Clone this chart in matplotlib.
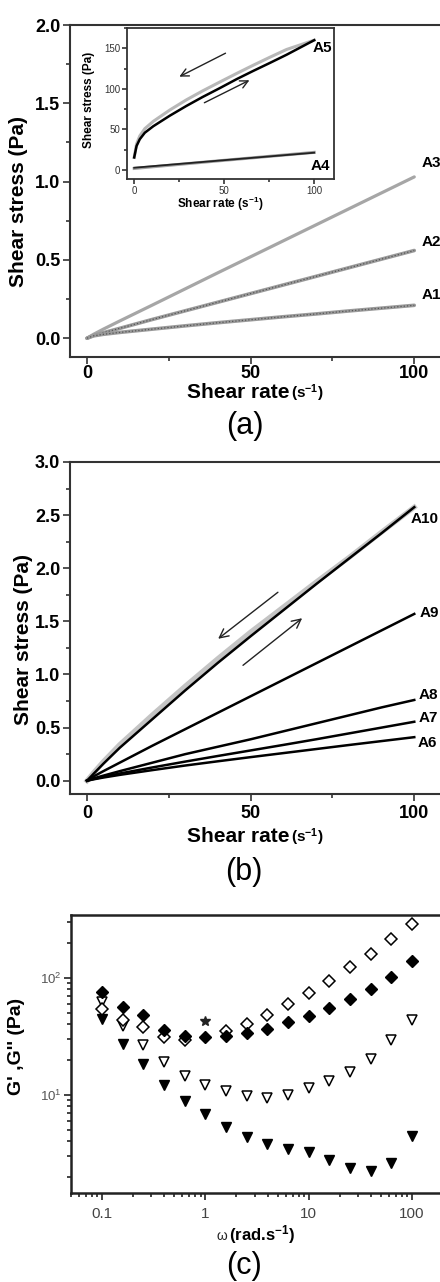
import numpy as np
import matplotlib
matplotlib.use('Agg')
import matplotlib.pyplot as plt
from matplotlib.ticker import MultipleLocator, LogLocator, FuncFormatter, NullFormatter

plt.rcParams['font.family'] = ['Liberation Sans', 'DejaVu Sans']
plt.rcParams['mathtext.fontset'] = 'custom'
plt.rcParams['mathtext.rm'] = 'Liberation Sans'
plt.rcParams['mathtext.bf'] = 'Liberation Sans:bold'
plt.rcParams['mathtext.it'] = 'Liberation Sans:italic'

# ---------------- data ----------------
shear_rate = [0, 2, 5, 10, 20, 30, 40, 50, 60, 70, 80, 90, 100]
A1 = [0, 0.015, 0.025, 0.037, 0.058, 0.079, 0.099, 0.118, 0.137, 0.155, 0.174, 0.192, 0.21]
A2 = [0, 0.018, 0.035, 0.063, 0.12, 0.175, 0.23, 0.285, 0.34, 0.395, 0.45, 0.505, 0.56]
A3 = [0, 0.025, 0.058, 0.11, 0.212, 0.315, 0.418, 0.52, 0.622, 0.724, 0.826, 0.928, 1.03]

A6 = [0, 0.013, 0.03, 0.055, 0.10, 0.143, 0.183, 0.222, 0.26, 0.298, 0.336, 0.373, 0.41]
A7 = [0, 0.016, 0.037, 0.068, 0.125, 0.18, 0.233, 0.285, 0.337, 0.39, 0.445, 0.50, 0.555]
A8 = [0, 0.022, 0.048, 0.09, 0.17, 0.25, 0.32, 0.39, 0.465, 0.54, 0.615, 0.69, 0.76]
A9 = [0, 0.04, 0.09, 0.17, 0.33, 0.485, 0.64, 0.795, 0.95, 1.105, 1.26, 1.415, 1.57]
A10_up = [0, 0.065, 0.16, 0.31, 0.58, 0.85, 1.11, 1.36, 1.605, 1.85, 2.09, 2.33, 2.575]
A10_down = [0, 0.075, 0.18, 0.34, 0.62, 0.89, 1.15, 1.40, 1.635, 1.87, 2.10, 2.34, 2.575]

inset_rate = [0, 1.3, 3.1, 5.9, 10.6, 19.8, 29, 38, 47.6, 56.9, 66, 75.4, 84.6, 100]
A5_up = [15.6, 29.6, 38, 46, 54, 67, 79, 90, 101, 112, 122, 132, 142, 160]
A5_down = [15.6, 32, 42, 51, 60, 74, 86.5, 97.5, 108.5, 119, 129, 139, 148.5, 160]
A4_rate = [0, 50, 100]
A4_up = [2.9, 12.2, 21.4]
A4_down = [2.0, 12.0, 21.8]

omega = [0.1, 0.158, 0.251, 0.398, 0.631, 1.0, 1.585, 2.512, 3.981, 6.31,
         10, 15.85, 25.12, 39.81, 63.1, 100]
G_filled_diamond = [75.9, 56, 48.5, 35.6, 32, 31.2, 32, 33.8, 36.8, 41.7,
                    46.9, 55.3, 66, 80.5, 101, 139]
G_open_diamond = [54.6, 44, 38, 31.2, 29.6, np.nan, 35.4, 40.6, 48.5, 59.8,
                  74.4, 94.9, 123, 161, 216, 290]
star_omega = [1.0]
star_G = [43]
G_open_tri = [61.8, 39, 26.5, 19.1, 14.5, 12.2, 10.7, 9.7, 9.5, 9.9,
              11.4, 13.2, 15.8, 20.4, 29.2, 44]
G_filled_tri = [44.8, 27.4, 18.3, 12.2, 8.8, 6.8, 5.35, 4.4, 3.78, 3.44,
                3.23, 2.77, 2.38, 2.23, 2.6, 4.46]

# ---------------- figure ----------------
W, H = 440, 1282
fig = plt.figure(figsize=(W / 100, H / 100), dpi=100)


def box(l, t, r, b):
    return [l / W, 1 - b / H, (r - l) / W, (b - t) / H]


def ftext(x, y, s, **kw):
    return fig.text(x / W, 1 - y / H, s, **kw)


def style_axes(ax, lw=1.5, color='#333333'):
    for sp in ax.spines.values():
        sp.set_linewidth(lw)
        sp.set_color(color)
    ax.tick_params(which='both', direction='out', color=color, width=1.2)
    ax.tick_params(which='major', length=5)
    ax.tick_params(which='minor', length=3)


# ---------------- panel (a) ----------------
axa = fig.add_axes(box(70, 25, 447, 357))
axa.plot(shear_rate, A3, color='#a6a6a6', lw=2.3, solid_capstyle='round')
for arr in (A2, A1):
    axa.plot(shear_rate, arr, color='#9a9a9a', lw=2.6, solid_capstyle='round')
    axa.plot(shear_rate, arr, color='#555555', lw=0.9, ls=(0, (1, 1.6)))
axa.set_xlim(-5.2, 110)
axa.set_ylim(-0.12, 2.0)
axa.xaxis.set_major_locator(MultipleLocator(50))
axa.xaxis.set_minor_locator(MultipleLocator(25))
axa.yaxis.set_major_locator(MultipleLocator(0.5))
axa.yaxis.set_minor_locator(MultipleLocator(0.25))
axa.yaxis.set_major_formatter(FuncFormatter(lambda v, p: '%.1f' % v))
style_axes(axa)
axa.tick_params(labelsize=13, pad=2)
axa.tick_params(axis='x', pad=1)
for lab in axa.get_xticklabels() + axa.get_yticklabels():
    lab.set_fontweight('bold')
axa.set_ylabel('Shear stress (Pa)', fontsize=15, fontweight='bold')
axa.yaxis.set_label_coords(-0.111, 0.467)
for name, y in (('A3', 1.117), ('A2', 0.612), ('A1', 0.273)):
    axa.text(102.1, y, name, fontsize=11, fontweight='bold', ha='left', va='center')

ftext(289, 398, 'Shear rate', fontsize=15, fontweight='bold', ha='right', va='baseline')
ftext(291, 398, r'(s$^{\mathbf{-1}}$)', fontsize=11, fontweight='bold', ha='left', va='baseline')
ftext(245, 426, '(a)', fontsize=22, ha='center', va='center')

# inset
axi = fig.add_axes(box(127, 28, 334, 179))
axi.plot(inset_rate, A5_down, color='#b8b8b8', lw=2.2)
axi.plot(inset_rate, A5_up, color='black', lw=1.8)
axi.plot(A4_rate, A4_down, color='#a0a0a0', lw=2.2)
axi.plot(A4_rate, A4_up, color='#222222', lw=1.3)
axi.set_xlim(-4, 111)
axi.set_ylim(-11, 175)
axi.xaxis.set_major_locator(MultipleLocator(50))
axi.xaxis.set_minor_locator(MultipleLocator(25))
axi.yaxis.set_major_locator(MultipleLocator(50))
axi.yaxis.set_minor_locator(MultipleLocator(25))
style_axes(axi, lw=1.3)
axi.tick_params(which='major', length=3.5)
axi.tick_params(which='minor', length=2)
axi.tick_params(labelsize=7, pad=1.5, labelcolor='#333333')
axi.set_ylabel('Shear stress (Pa)', fontsize=8.5, fontweight='bold')
axi.yaxis.set_label_coords(-0.155, 0.523)
axi.text(99.3, 150, 'A5', fontsize=11, fontweight='bold', ha='left', va='center')
axi.text(98.0, 5, 'A4', fontsize=11, fontweight='bold', ha='left', va='center')
axi.annotate('', xy=(23.7, 113.5), xytext=(52.1, 145.5),
             arrowprops=dict(arrowstyle='->', lw=1.0, color='#222222', mutation_scale=14))
axi.annotate('', xy=(65.4, 112.2), xytext=(37.6, 81.4),
             arrowprops=dict(arrowstyle='->', lw=1.0, color='#222222', mutation_scale=14))
ftext(220, 208, r'Shear rate (s$^{\mathbf{-1}}$)', fontsize=8.5, fontweight='bold',
      ha='center', va='baseline')

# ---------------- panel (b) ----------------
axb = fig.add_axes(box(70, 462, 447, 794))
axb.plot(shear_rate, A10_down, color='#c4c4c4', lw=3.6)
for arr in (A10_up, A9, A8, A7, A6):
    axb.plot(shear_rate, arr, color='black', lw=1.8)
axb.set_xlim(-5.2, 110)
axb.set_ylim(-0.125, 3.0)
axb.xaxis.set_major_locator(MultipleLocator(50))
axb.xaxis.set_minor_locator(MultipleLocator(25))
axb.yaxis.set_major_locator(MultipleLocator(0.5))
axb.yaxis.set_minor_locator(MultipleLocator(0.25))
axb.yaxis.set_major_formatter(FuncFormatter(lambda v, p: '%.1f' % v))
style_axes(axb)
axb.tick_params(labelsize=13, pad=2)
axb.tick_params(axis='x', pad=3)
for lab in axb.get_xticklabels() + axb.get_yticklabels():
    lab.set_fontweight('bold')
axb.set_ylabel('Shear stress (Pa)', fontsize=15, fontweight='bold')
axb.yaxis.set_label_coords(-0.098, 0.464)
for name, x, y in (('A10', 98.8, 2.465), ('A9', 101.5, 1.575), ('A8', 101.2, 0.806),
                   ('A7', 101.2, 0.59), ('A6', 101.0, 0.356)):
    axb.text(x, y, name, fontsize=11, fontweight='bold', ha='left', va='center')
axb.annotate('', xy=(39.4, 1.32), xytext=(59.0, 1.79),
             arrowprops=dict(arrowstyle='->', lw=1.0, color='#222222', mutation_scale=16))
axb.annotate('', xy=(66.4, 1.546), xytext=(47.0, 1.07),
             arrowprops=dict(arrowstyle='->', lw=1.0, color='#222222', mutation_scale=16))

ftext(289, 842, 'Shear rate', fontsize=15, fontweight='bold', ha='right', va='baseline')
ftext(291, 842, r'(s$^{\mathbf{-1}}$)', fontsize=11, fontweight='bold', ha='left', va='baseline')
ftext(244, 872, '(b)', fontsize=22, ha='center', va='center')

# ---------------- panel (c) ----------------
axc = fig.add_axes(box(71, 915, 443, 1193))
axc.set_xscale('log')
axc.set_yscale('log')
axc.plot(omega, G_open_tri, 'v', ms=7, mfc='white', mec='black', mew=1.1, ls='none')
axc.plot(omega, G_filled_tri, 'v', ms=7, mfc='black', mec='black', ls='none')
axc.plot(omega, G_open_diamond, 'D', ms=6, mfc='white', mec='black', mew=1.1, ls='none')
axc.plot(omega, G_filled_diamond, 'D', ms=6, mfc='black', mec='black', ls='none')
axc.plot(star_omega, star_G, '*', ms=7, color='#222222', ls='none')
axc.set_xlim(0.05, 200)
axc.set_ylim(1.45, 345)
axc.xaxis.set_major_locator(LogLocator(base=10))
axc.xaxis.set_minor_locator(LogLocator(base=10, subs=np.arange(2, 10)))
axc.xaxis.set_major_formatter(FuncFormatter(lambda v, p: '%g' % v))
axc.xaxis.set_minor_formatter(NullFormatter())
axc.yaxis.set_major_locator(LogLocator(base=10))
axc.yaxis.set_minor_locator(LogLocator(base=10, subs=np.arange(2, 10)))
axc.yaxis.set_minor_formatter(NullFormatter())
style_axes(axc, lw=1.8, color='#222222')
axc.tick_params(axis='x', labelsize=11, labelcolor='#444444', pad=5)
axc.tick_params(axis='y', labelsize=9.5, labelcolor='#555555', pad=2)
axc.set_ylabel("G' ,G'' (Pa)", fontsize=14, fontweight='bold')
axc.yaxis.set_label_coords(-0.124, 0.529)

ftext(227, 1240, '\u03c9', fontsize=10, ha='right', va='baseline', color='#222222')
ftext(229, 1240, r'(rad.s$^{\mathbf{-1}}$)', fontsize=12, fontweight='bold', ha='left', va='baseline')
ftext(244, 1266, '(c)', fontsize=22, ha='center', va='center')

fig.savefig('out.png', dpi=100)
